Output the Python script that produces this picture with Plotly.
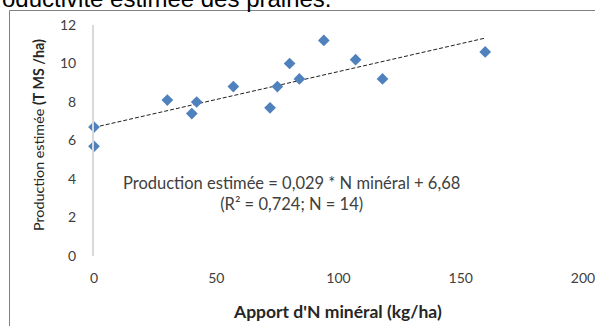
import plotly.graph_objects as go

# Data
n_apport = [0, 0, 30, 40, 42, 57, 72, 75, 80, 84, 94, 107, 118, 160]
production = [6.7, 5.7, 8.1, 7.4, 8.0, 8.8, 7.7, 8.8, 10.0, 9.2, 11.2, 10.2, 9.2, 10.6]

slope = 0.029
intercept = 6.68
trend_x = [0, 160]
trend_y = [intercept + slope * v for v in trend_x]

x_ticks = [0, 50, 100, 150, 200]
y_ticks = [0, 2, 4, 6, 8, 10, 12]

W, H = 595, 326
L, R, T, B = 94, 12, 25, 70
pw, ph = W - L - R, H - T - B


def px(xp):
    return (xp - L) / pw


def py(yp):
    return (H - B - yp) / ph


fig = go.Figure()
fig.add_trace(go.Scatter(
    x=trend_x, y=trend_y, mode="lines",
    line=dict(color="#202020", width=1, dash="4px,2px"),
    hoverinfo="skip", showlegend=False, cliponaxis=False,
))
fig.add_trace(go.Scatter(
    x=n_apport, y=production, mode="markers",
    marker=dict(symbol="diamond", size=9, color="#4f81bd",
                line=dict(width=0)),
    showlegend=False, cliponaxis=False,
))

FONT = "Lato, 'Open Sans', sans-serif"
tick_font = dict(family=FONT, size=14, color="#404040")

fig.update_layout(
    width=W, height=H, autosize=False,
    margin=dict(l=L, r=R, t=T, b=B, autoexpand=False),
    paper_bgcolor="white", plot_bgcolor="white",
    xaxis=dict(range=[0, 200], tickvals=x_ticks, showgrid=False, zeroline=False,
               showline=False, ticks="outside", ticklen=9, automargin=False,
               tickcolor="rgba(0,0,0,0)", tickfont=tick_font, fixedrange=True,
               ticklabeloverflow="allow"),
    yaxis=dict(range=[0, 12], tickvals=y_ticks, showgrid=False, zeroline=False,
               showline=True, linecolor="#d9d9d9", linewidth=2, automargin=False,
               ticks="outside", ticklen=13, tickcolor="rgba(0,0,0,0)",
               tickfont=tick_font, fixedrange=True),
    shapes=[
        dict(type="line", xref="paper", yref="paper",
             x0=px(9.5), x1=px(600), y0=py(10.5), y1=py(10.5),
             line=dict(color="#808080", width=1)),
        dict(type="line", xref="paper", yref="paper",
             x0=px(9.5), x1=px(9.5), y0=py(10.5), y1=py(340),
             line=dict(color="#808080", width=1)),
    ],
    annotations=[
        dict(text="Productivité estimée des prairies.", xref="paper", yref="paper",
             x=px(-24), y=py(-1.5), xanchor="left", yanchor="middle", showarrow=False,
             font=dict(family="Liberation Sans, Arial, sans-serif", size=24, color="#000000")),
        dict(text="<b>Apport d'N minéral (kg/ha)</b>", xref="paper", yref="paper",
             x=px(337), y=py(311), xanchor="center", yanchor="middle", showarrow=False,
             font=dict(family=FONT, size=17.5, color="#262626")),
        dict(text="Production estimée <b>(T MS /ha)</b>", xref="paper", yref="paper",
             x=px(38), y=py(135), xanchor="center", yanchor="middle", showarrow=False,
             textangle=-90,
             font=dict(family=FONT, size=14.3, color="#262626")),
        dict(text="Production estimée = 0,029 * N minéral + 6,68<br>(R² = 0,724; N = 14)",
             xref="paper", yref="paper",
             x=px(291), y=py(193), xanchor="center", yanchor="middle", showarrow=False,
             align="center",
             font=dict(family=FONT, size=16.5, color="#404040")),
    ],
)

fig.write_html("out.html", config={"displayModeBar": False},
               post_script="document.body.style.margin='0';")
